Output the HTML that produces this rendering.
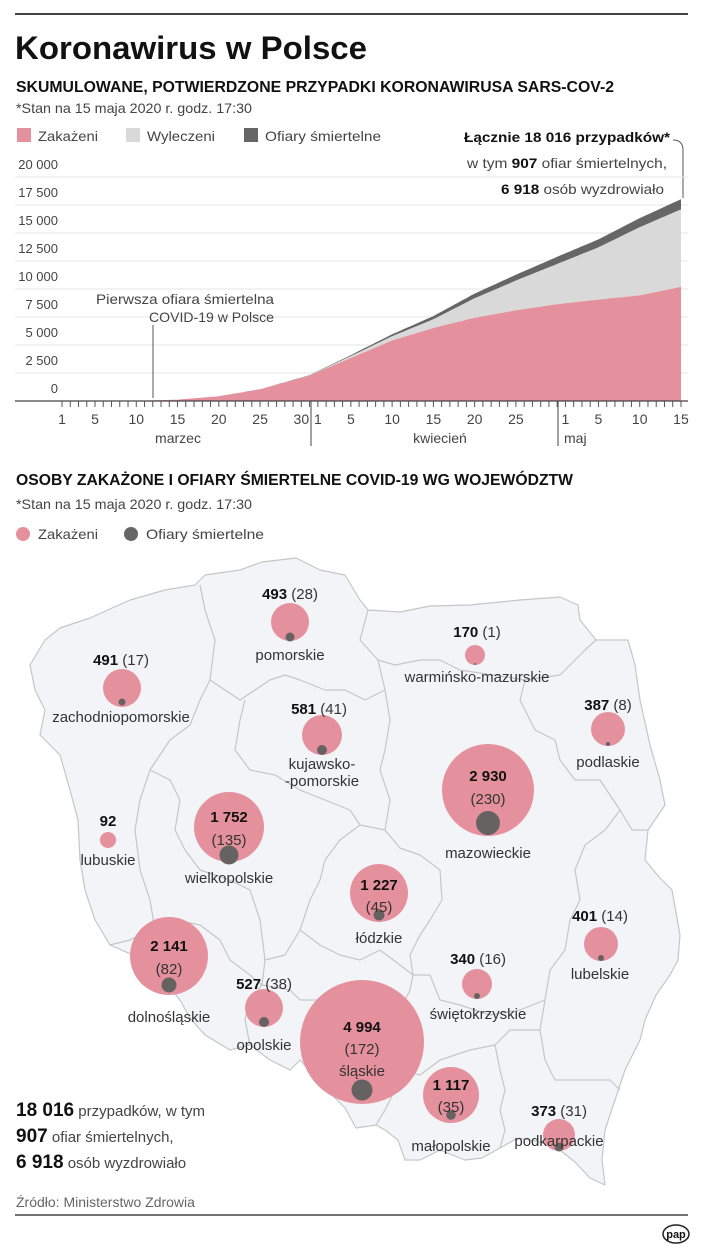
<!DOCTYPE html>
<html><head><meta charset="utf-8"><style>
body{margin:0;background:#fff}
svg{display:block;font-family:"Liberation Sans",sans-serif}
.t{fill:#222}
.g{fill:#444}
</style></head><body>
<svg id="s" width="703" height="1250" viewBox="0 0 703 1250" xmlns="http://www.w3.org/2000/svg">
<rect width="703" height="1250" fill="#fff"/>
<line x1="15" y1="14" x2="688" y2="14" stroke="#444" stroke-width="2"/>
<text x="15" y="59" font-size="32" font-weight="bold" fill="#111" textLength="352" lengthAdjust="spacingAndGlyphs">Koronawirus w Polsce</text>
<text x="16" y="92" font-size="16" font-weight="bold" fill="#111" textLength="598" lengthAdjust="spacingAndGlyphs">SKUMULOWANE, POTWIERDZONE PRZYPADKI KORONAWIRUSA SARS-COV-2</text>
<text x="16" y="113" font-size="14" fill="#444" textLength="236" lengthAdjust="spacingAndGlyphs">*Stan na 15 maja 2020 r. godz. 17:30</text>
<!-- legend -->
<rect x="17" y="128" width="14" height="14" fill="#e4919d"/>
<text x="38" y="141" font-size="14" class="g" textLength="60" lengthAdjust="spacingAndGlyphs">Zakażeni</text>
<rect x="126" y="128" width="14" height="14" fill="#d9d9d9"/>
<text x="147" y="141" font-size="14" class="g" textLength="68" lengthAdjust="spacingAndGlyphs">Wyleczeni</text>
<rect x="244" y="128" width="14" height="14" fill="#666"/>
<text x="265" y="141" font-size="14" class="g" textLength="116" lengthAdjust="spacingAndGlyphs">Ofiary śmiertelne</text>
<text x="670" y="142" font-size="14" font-weight="bold" fill="#111" text-anchor="end" textLength="206" lengthAdjust="spacingAndGlyphs">Łącznie 18 016 przypadków*</text>
<text x="667" y="168" font-size="14" fill="#444" text-anchor="end" textLength="200" lengthAdjust="spacingAndGlyphs">w tym <tspan font-weight="bold" fill="#111">907</tspan> ofiar śmiertelnych,</text>
<text x="664" y="194" font-size="14" fill="#444" text-anchor="end" textLength="163" lengthAdjust="spacingAndGlyphs"><tspan font-weight="bold" fill="#111">6 918</tspan> osób wyzdrowiało</text>
<path d="M673,140 Q683,140 683,150 L683,198" fill="none" stroke="#555" stroke-width="1"/>
<g id="grid"></g>
<g id="area"></g>
<g id="axis"></g>
<line x1="153" y1="325" x2="153" y2="398" stroke="#555" stroke-width="1"/>
<text x="274" y="304" font-size="14" class="g" text-anchor="end" textLength="178" lengthAdjust="spacingAndGlyphs">Pierwsza ofiara śmiertelna</text>
<text x="274" y="322" font-size="14" class="g" text-anchor="end" textLength="125" lengthAdjust="spacingAndGlyphs">COVID-19 w Polsce</text>
<text x="178" y="443" font-size="14" class="g" text-anchor="middle">marzec</text>
<text x="440" y="443" font-size="14" class="g" text-anchor="middle">kwiecień</text>
<text x="564" y="443" font-size="14" class="g">maj</text>

<text x="16" y="485" font-size="16" font-weight="bold" fill="#111" textLength="557" lengthAdjust="spacingAndGlyphs">OSOBY ZAKAŻONE I OFIARY ŚMIERTELNE COVID-19 WG WOJEWÓDZTW</text>
<text x="16" y="509" font-size="14" fill="#444" textLength="236" lengthAdjust="spacingAndGlyphs">*Stan na 15 maja 2020 r. godz. 17:30</text>
<circle cx="23" cy="534" r="7" fill="#e4919d"/>
<text x="38" y="539" font-size="14" class="g" textLength="60" lengthAdjust="spacingAndGlyphs">Zakażeni</text>
<circle cx="131" cy="534" r="7" fill="#666"/>
<text x="146" y="539" font-size="14" class="g" textLength="118" lengthAdjust="spacingAndGlyphs">Ofiary śmiertelne</text>

<!-- map -->
<g fill="#f3f4f7" stroke="#c4c6ca" stroke-width="1.2" stroke-linejoin="round">
<path d="M30,665 L45,640 L60,628 L90,618 L130,600 L165,590 L195,585 L205,575 L240,570 L262,562 L296,558 L320,570 L345,575 L360,600 L368,610 L400,612 L430,606 L470,605 L520,600 L560,597 L578,605 L580,620 L596,640 L628,640 L635,665 L640,700 L650,745 L660,780 L665,805 L648,830 L645,860 L660,878 L672,890 L680,935 L678,960 L670,975 L656,995 L645,1020 L640,1040 L625,1070 L615,1100 L605,1130 L602,1160 L605,1185 L590,1178 L575,1162 L560,1150 L540,1142 L518,1138 L500,1148 L482,1158 L465,1160 L440,1150 L420,1160 L405,1160 L398,1140 L385,1130 L376,1125 L356,1128 L345,1108 L335,1098 L318,1080 L300,1060 L290,1070 L270,1060 L250,1045 L230,1050 L205,1035 L190,1018 L180,1000 L160,975 L140,958 L110,945 L95,920 L85,890 L80,860 L78,820 L70,790 L60,755 L40,735 L45,710 L35,690 Z"/>
</g>
<g fill="none" stroke="#c4c6ca" stroke-width="1.2" stroke-linejoin="round">
<path d="M200,585 L205,610 L215,640 L210,680 L200,700 L190,725 L170,740 L150,770 L140,800 L135,830 L140,870 L150,900 L155,930 L140,958"/>
<path d="M210,680 L240,700 L255,690 L270,680 L285,675 L300,680 L325,690 L345,690 L365,700 L385,690 L378,660 L360,640 L368,610"/>
<path d="M378,660 L395,665 L420,660 L440,660 L460,670 L500,676 L525,680 L560,675 L585,650 L596,640"/>
<path d="M525,680 L520,700 L535,730 L555,740 L560,760 L575,780 L600,780 L620,810 L632,830 L648,830"/>
<path d="M245,700 L240,720 L235,750 L250,770 L275,775 L300,790 L325,800 L350,810 L360,825 L385,830 L390,800 L380,770 L385,750 L390,720 L385,690"/>
<path d="M150,770 L170,780 L180,800 L175,830 L185,850 L200,870 L230,880 L250,890 L260,920 L265,960 L262,985"/>
<path d="M385,830 L400,848 L420,855 L440,870 L442,900 L430,920 L420,935 L410,955 L413,975"/>
<path d="M360,825 L340,840 L325,860 L320,880 L310,900 L300,930 L285,955 L265,960"/>
<path d="M620,810 L605,830 L585,845 L575,870 L580,900 L570,920 L565,950 L550,970 L545,1000 L540,1030 L545,1060 L555,1080 L578,1080 L610,1080 L620,1090"/>
<path d="M300,930 L320,945 L340,955 L360,960 L380,950 L400,965 L413,975 L430,975 L440,1000 L460,1005 L490,1015 L520,1010 L545,1000"/>
<path d="M413,975 L410,990 L400,1010 L405,1040 L400,1070 L395,1090 L385,1110 L376,1125"/>
<path d="M400,1070 L420,1075 L440,1060 L470,1050 L495,1045 L510,1030 L540,1030"/>
<path d="M495,1045 L500,1070 L505,1090 L500,1110 L505,1130 L500,1148"/>
<path d="M110,945 L130,940 L150,930 L155,930 L175,920 L200,925 L220,940 L230,960 L250,975 L262,985 L250,1000 L245,1020 L250,1045"/>
<path d="M262,985 L290,990 L300,1000 L320,1000 L340,1010 L330,1040 L320,1060 L318,1080"/>
</g>

<!-- circles -->
<g fill="#e4919d">
<circle cx="290" cy="622" r="19"/><circle cx="122" cy="688" r="19"/><circle cx="475" cy="655" r="10"/>
<circle cx="322" cy="735" r="20"/><circle cx="608" cy="729" r="17"/><circle cx="488" cy="790" r="46"/>
<circle cx="108" cy="840" r="8"/><circle cx="229" cy="827" r="35"/><circle cx="379" cy="893" r="29"/>
<circle cx="601" cy="944" r="17"/><circle cx="169" cy="956" r="39"/><circle cx="477" cy="984" r="15"/>
<circle cx="264" cy="1008" r="19"/><circle cx="362" cy="1042" r="62"/><circle cx="451" cy="1095" r="28"/><circle cx="559" cy="1135" r="16"/>
</g>
<g fill="#676262">
<circle cx="290" cy="637" r="4.5"/><circle cx="122" cy="702" r="3.5"/><circle cx="475" cy="664" r="1"/>
<circle cx="322" cy="750" r="5"/><circle cx="608" cy="744" r="2"/><circle cx="488" cy="823" r="12"/>
<circle cx="229" cy="855" r="9.5"/><circle cx="379" cy="915" r="5.5"/><circle cx="601" cy="958" r="3"/>
<circle cx="169" cy="985" r="7.5"/><circle cx="477" cy="996" r="3"/><circle cx="264" cy="1022" r="5"/>
<circle cx="362" cy="1090" r="10.5"/><circle cx="451" cy="1115" r="4.8"/><circle cx="559" cy="1147" r="4.5"/>
</g>
<g font-size="15" fill="#333" text-anchor="middle">
<text x="290" y="599"><tspan font-weight="bold" fill="#111">493</tspan> (28)</text>
<text x="290" y="660">pomorskie</text>
<text x="121" y="665"><tspan font-weight="bold" fill="#111">491</tspan> (17)</text>
<text x="121" y="722">zachodniopomorskie</text>
<text x="477" y="637"><tspan font-weight="bold" fill="#111">170</tspan> (1)</text>
<text x="477" y="682">warmińsko-mazurskie</text>
<text x="319" y="714"><tspan font-weight="bold" fill="#111">581</tspan> (41)</text>
<text x="322" y="769">kujawsko-</text>
<text x="322" y="786">-pomorskie</text>
<text x="608" y="710"><tspan font-weight="bold" fill="#111">387</tspan> (8)</text>
<text x="608" y="767">podlaskie</text>
<text x="488" y="781" font-weight="bold" fill="#111">2 930</text>
<text x="488" y="804">(230)</text>
<text x="488" y="858">mazowieckie</text>
<text x="108" y="826" font-weight="bold" fill="#111">92</text>
<text x="108" y="865">lubuskie</text>
<text x="229" y="822" font-weight="bold" fill="#111">1 752</text>
<text x="229" y="845">(135)</text>
<text x="229" y="883">wielkopolskie</text>
<text x="379" y="890" font-weight="bold" fill="#111">1 227</text>
<text x="379" y="912">(45)</text>
<text x="379" y="943">łódzkie</text>
<text x="600" y="921"><tspan font-weight="bold" fill="#111">401</tspan> (14)</text>
<text x="600" y="979">lubelskie</text>
<text x="169" y="951" font-weight="bold" fill="#111">2 141</text>
<text x="169" y="974">(82)</text>
<text x="169" y="1022">dolnośląskie</text>
<text x="478" y="964"><tspan font-weight="bold" fill="#111">340</tspan> (16)</text>
<text x="478" y="1019">świętokrzyskie</text>
<text x="264" y="989"><tspan font-weight="bold" fill="#111">527</tspan> (38)</text>
<text x="264" y="1050">opolskie</text>
<text x="362" y="1032" font-weight="bold" fill="#111">4 994</text>
<text x="362" y="1054">(172)</text>
<text x="362" y="1076">śląskie</text>
<text x="451" y="1090" font-weight="bold" fill="#111">1 117</text>
<text x="451" y="1112">(35)</text>
<text x="451" y="1151">małopolskie</text>
<text x="559" y="1116"><tspan font-weight="bold" fill="#111">373</tspan> (31)</text>
<text x="559" y="1146">podkarpackie</text>
</g>
<text x="16" y="1116" font-size="15" fill="#444"><tspan font-weight="bold" font-size="19" fill="#111">18 016</tspan> przypadków, w tym</text>
<text x="16" y="1142" font-size="15" fill="#444"><tspan font-weight="bold" font-size="19" fill="#111">907</tspan> ofiar śmiertelnych,</text>
<text x="16" y="1168" font-size="15" fill="#444"><tspan font-weight="bold" font-size="19" fill="#111">6 918</tspan> osób wyzdrowiało</text>
<text x="16" y="1207" font-size="14" fill="#666">Źródło: Ministerstwo Zdrowia</text>
<line x1="15" y1="1215" x2="688" y2="1215" stroke="#444" stroke-width="1.5"/>
<ellipse cx="676" cy="1234" rx="13" ry="9" fill="#fff" stroke="#222" stroke-width="1.5"/>
<text x="676" y="1238" font-size="11" font-weight="bold" text-anchor="middle" fill="#111">pap</text>
</svg>
<script>
(function(){
var NS="http://www.w3.org/2000/svg";
function el(p,n,a){var e=document.createElementNS(NS,n);for(var k in a)e.setAttribute(k,a[k]);p.appendChild(e);return e;}
var X=function(d){return 62+d*8.253;}; var Y=function(v){return 401-v*224/20000;};
var grid=document.getElementById('grid'),axis=document.getElementById('axis'),area=document.getElementById('area');
var labs=["0","2 500","5 000","7 500","10 000","12 500","15 000","17 500","20 000"];
for(var i=0;i<=8;i++){var y=Y(i*2500);
 if(i>0)el(grid,'line',{x1:15,x2:688,y1:y,y2:y,stroke:'#e6e6e6','stroke-width':1});
 var t=el(grid,'text',{x:58,y:y-8,'font-size':13,fill:'#444','text-anchor':'end'});t.textContent=labs[i];}
// key points: day index (Mar1=0), total, recovered, deaths
var K=[[0,0,0,0],[3,1,0,0],[10,49,0,0],[14,119,0,3],[19,425,1,5],[24,1051,1,14],[30,2311,7,33],[35,4102,162,94],[40,5955,375,181],[45,7582,774,286],[50,9593,1740,426],[55,11273,2655,524],[60,12877,3590,644],[65,14431,4660,716],[70,16326,6076,818],[75,18016,6918,907]];
function interp(d,j){for(var i=0;i<K.length-1;i++){if(d<=K[i+1][0]){var a=K[i],b=K[i+1],f=(d-a[0])/(b[0]-a[0]);return a[j]+(b[j]-a[j])*f;}}return K[K.length-1][j];}
function path(fnTop,fnBot){var s="M"+X(0)+","+Y(fnTop(0));for(var d=0;d<=75;d+=0.5)s+=" L"+X(d).toFixed(1)+","+Y(fnTop(d)).toFixed(1);for(var d=75;d>=0;d-=0.5)s+=" L"+X(d).toFixed(1)+","+Y(fnBot(d)).toFixed(1);return s+"Z";}
var tot=function(d){return interp(d,1);},rec=function(d){return interp(d,2);},dth=function(d){return interp(d,3);};
el(area,'path',{d:path(tot,function(d){return tot(d)-dth(d);}),fill:'#666'});
el(area,'path',{d:path(function(d){return tot(d)-dth(d);},function(d){return tot(d)-dth(d)-rec(d);}),fill:'#d9d9d9'});
el(area,'path',{d:path(function(d){return tot(d)-dth(d)-rec(d);},function(){return 0;}),fill:'#e4919d'});
el(axis,'line',{x1:15,x2:688,y1:401,y2:401,stroke:'#444','stroke-width':1.2});
for(var d=0;d<=75;d++){var x=X(d);el(axis,'line',{x1:x,x2:x,y1:401,y2:407,stroke:'#555','stroke-width':1});}
var L=[[0,"1"],[4,"5"],[9,"10"],[14,"15"],[19,"20"],[24,"25"],[29,"30"],[31,"1"],[35,"5"],[40,"10"],[45,"15"],[50,"20"],[55,"25"],[61,"1"],[65,"5"],[70,"10"],[75,"15"]];
L.forEach(function(l){var t=el(axis,'text',{x:X(l[0]),y:424,'font-size':14,fill:'#444','text-anchor':'middle'});t.textContent=l[1];});
[311,558].forEach(function(x){el(axis,'line',{x1:x,x2:x,y1:401,y2:446,stroke:'#444','stroke-width':1});});
})();
</script>
</body></html>
